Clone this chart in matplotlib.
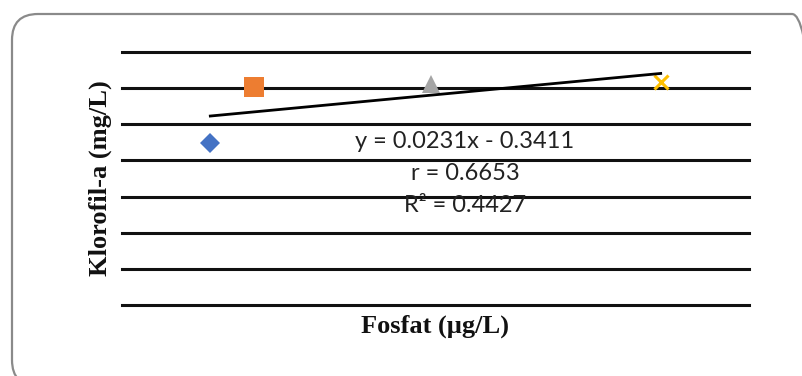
import matplotlib
matplotlib.use("Agg")
import matplotlib.pyplot as plt
from matplotlib.patches import FancyBboxPatch
import numpy as np

# Data
fosfat = [37.4, 37.9, 39.9, 42.5]
klorofil = [0.449, 0.604, 0.612, 0.618]
colors = ["#4472C4", "#ED7D31", "#A5A5A5", "#FFC000"]
markers = ["D", "s", "^", "x"]
slope = 0.0231
intercept = -0.3411
r_value = 0.6653
r2_value = 0.4427
y_ticks = [0.0, 0.1, 0.2, 0.3, 0.4, 0.5, 0.6, 0.7]

W, H = 803, 376
fig = plt.figure(figsize=(W / 100, H / 100), dpi=100)

# rounded border (inch coordinates, 100 px per inch)
border = FancyBboxPatch((0.12, (H - 386) / 100), (818 - 12) / 100, (386 - 14) / 100,
                        boxstyle="round,pad=0,rounding_size=0.26",
                        transform=fig.dpi_scale_trans, fill=False,
                        edgecolor="#8a8a8a", linewidth=1.6)
fig.patches.append(border)

ax = fig.add_axes([122 / W, 1 - 305 / H, (749 - 122) / W, (305 - 52) / H])
ax.set_xlim(36.4, 43.5)
ax.set_ylim(0, 0.7)
for yv in y_ticks:
    ax.axhline(yv, color="#111111", linewidth=2.2, zorder=1, clip_on=False)
for s in ax.spines.values():
    s.set_visible(False)
ax.set_xticks([])
ax.set_yticks([])

sizes = {"D": 10.5, "s": 14.5, "^": 13.5, "x": 10.5}
for x, y, c, m in zip(fosfat, klorofil, colors, markers):
    if m == "x":
        ax.plot(x, y, marker=m, color=c, markersize=sizes[m], markeredgewidth=2.2,
                linestyle="none", zorder=3)
    else:
        ax.plot(x, y, marker=m, color=c, markersize=sizes[m], markeredgewidth=0,
                linestyle="none", zorder=3)

xs = np.array([min(fosfat), max(fosfat)])
ax.plot(xs, slope * xs + intercept, color="black", linewidth=2.0, zorder=4)

eq_font = dict(family="Lato", fontsize=17, color="#222222", ha="center", va="center")
fig.text(465 / W, 1 - 141 / H, f"y = {slope}x - {abs(intercept)}", **eq_font)
fig.text(465 / W, 1 - 173 / H, f"r = {r_value}", **eq_font)
fig.text(465 / W, 1 - 205 / H, f"R² = {r2_value}", **eq_font)

lab_font = dict(family="Liberation Serif", fontweight="bold", fontsize=19, color="#111111")
fig.text(100 / W, 1 - 178 / H, "Klorofil-a (mg/L)", rotation=90, ha="center", va="center", **lab_font)
fig.text(435 / W, 1 - 326 / H, "Fosfat (µg/L)", ha="center", va="center", **lab_font)

fig.savefig("out.png", dpi=100)
